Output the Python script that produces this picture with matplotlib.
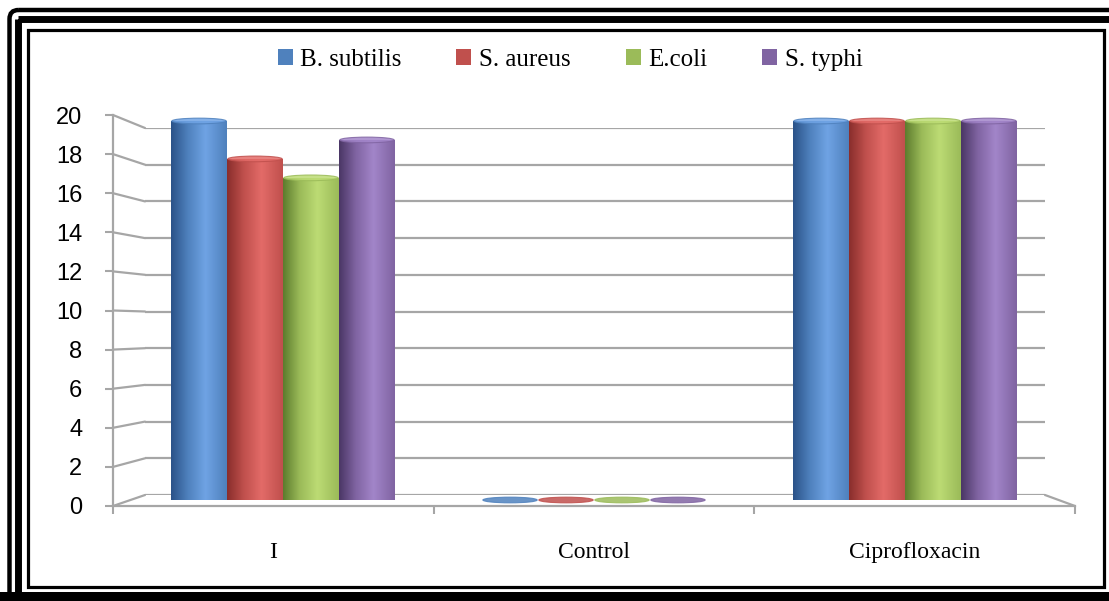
import numpy as np
import matplotlib
matplotlib.use("Agg")
import matplotlib.pyplot as plt
from matplotlib.patches import Rectangle, Ellipse, Patch, FancyBboxPatch, ConnectionPatch
from matplotlib.colors import LinearSegmentedColormap

categories = ["I", "Control", "Ciprofloxacin"]
series = ["B. subtilis", "S. aureus", "E.coli", "S. typhi"]
b_subtilis = [20, 0, 20]
s_aureus = [18, 0, 20]
e_coli = [17, 0, 20]
s_typhi = [19, 0, 20]
values = [b_subtilis, s_aureus, e_coli, s_typhi]
yticks = list(range(0, 21, 2))

base = ["#4F81BD", "#C0504D", "#9BBB59", "#8064A2"]
dark = ["#2B5389", "#8A2E2C", "#5E7D2E", "#4B3766"]
light = ["#6FA3E4", "#E36B68", "#BCDB74", "#A285C9"]

W, H = 1109, 601
fig = plt.figure(figsize=(W / 100, H / 100), dpi=100)

def px_axes(x0, x1, ytop, ybot):
    return fig.add_axes([x0 / W, 1 - ybot / H, (x1 - x0) / W, (ybot - ytop) / H])

# frames
canvas = fig.add_axes([0, 0, 1, 1])
canvas.set_xlim(0, W)
canvas.set_ylim(H, 0)
canvas.axis("off")
canvas.add_patch(FancyBboxPatch((9.5, 10), 1150, 640, boxstyle="round,pad=0,rounding_size=9",
                                fill=False, ec="black", lw=3.2))
canvas.add_patch(Rectangle((17.5, 18.5), 1150, 640, fill=False, ec="black", lw=5))
canvas.add_patch(Rectangle((0, 592), W, 12, fc="black", ec="none"))
canvas.add_patch(Rectangle((27.5, 30), 1076, 556.5, fill=False, ec="black", lw=2.3))

grey = "#a6a6a6"

# back wall with gridlines
ax_back = px_axes(145, 1045, 128, 495)
ax_back.set_ylim(0, 20)
ax_back.set_xlim(0, 1)
ax_back.set_yticks(yticks)
ax_back.yaxis.grid(True, color=grey, lw=1.6)
ax_back.tick_params(left=False, bottom=False, labelleft=False, labelbottom=False)
for s in ax_back.spines.values():
    s.set_visible(False)
ax_back.patch.set_alpha(0)

# front axis
ax_front = px_axes(113, 1075, 115, 506)
ax_front.set_ylim(0, 20)
ax_front.set_xlim(-0.5, 2.5)
ax_front.patch.set_alpha(0)
ax_front.set_yticks(yticks)
ax_front.set_yticklabels([str(t) for t in yticks], fontsize=17, family="Liberation Sans")
ax_front.set_xticks([-0.5, 0.5, 1.5, 2.5])
ax_front.set_xticklabels([])
ax_front.set_xticks(range(len(categories)), minor=True)
ax_front.set_xticklabels(categories, minor=True, fontsize=17, family="Liberation Serif")
ax_front.tick_params(axis="x", which="minor", length=0, pad=26)
ax_front.tick_params(axis="both", which="major", color=grey, length=6, width=1.5)
ax_front.tick_params(axis="y", pad=16)
for k in ["top", "right"]:
    ax_front.spines[k].set_visible(False)
for k in ["left", "bottom"]:
    ax_front.spines[k].set_color(grey)
    ax_front.spines[k].set_linewidth(1.6)

for t in yticks:
    fig.add_artist(ConnectionPatch(xyA=(0, t), coordsA=ax_front.get_yaxis_transform(),
                                   xyB=(0, t), coordsB=ax_back.get_yaxis_transform(),
                                   color=grey, lw=1.6))
fig.add_artist(ConnectionPatch(xyA=(1, 0), coordsA=ax_front.transAxes,
                               xyB=(1, 0), coordsB=ax_back.transAxes,
                               color=grey, lw=1.6))

# bars
ax_bar = px_axes(127.5, 1060.5, 121, 500)
ax_bar.set_xlim(-0.5, 2.5)
ax_bar.set_ylim(0, 20)
ax_bar.axis("off")
ax_bar.patch.set_alpha(0)

bw = 0.18
grad = np.linspace(0, 1, 64).reshape(1, -1)
for j in range(len(series)):
    cmap = LinearSegmentedColormap.from_list(
        "c%d" % j, [(0, dark[j]), (0.3, base[j]), (0.62, light[j]), (1, base[j])])
    for i, v in enumerate(values[j]):
        x0 = i + (j - 1.5) * bw - bw / 2
        rect = Rectangle((x0, 0), bw, v, fc="none", ec="none")
        ax_bar.add_patch(rect)
        if v > 0:
            im = ax_bar.imshow(grad, cmap=cmap, extent=(x0, x0 + bw, 0, v), aspect="auto",
                               zorder=2)
            im.set_clip_path(rect)
        ax_bar.add_patch(Ellipse((x0 + bw / 2, v), bw * 0.97, 0.3,
                                 fc=light[j] if v > 0 else base[j],
                                 ec=base[j], lw=0.8, alpha=0.85, zorder=3, clip_on=False))
ax_bar.set_xlim(-0.5, 2.5)
ax_bar.set_ylim(0, 20)

# legend
handles = [Patch(fc=c, ec="none") for c in base]
fig.legend(handles, series, loc="center", bbox_to_anchor=(570 / W, 1 - 60 / H), ncol=4,
           frameon=False, prop={"family": "Liberation Serif", "size": 18},
           handlelength=0.6, handleheight=0.6, handletextpad=0.3, columnspacing=2.2)

fig.savefig("out.png", dpi=100)
